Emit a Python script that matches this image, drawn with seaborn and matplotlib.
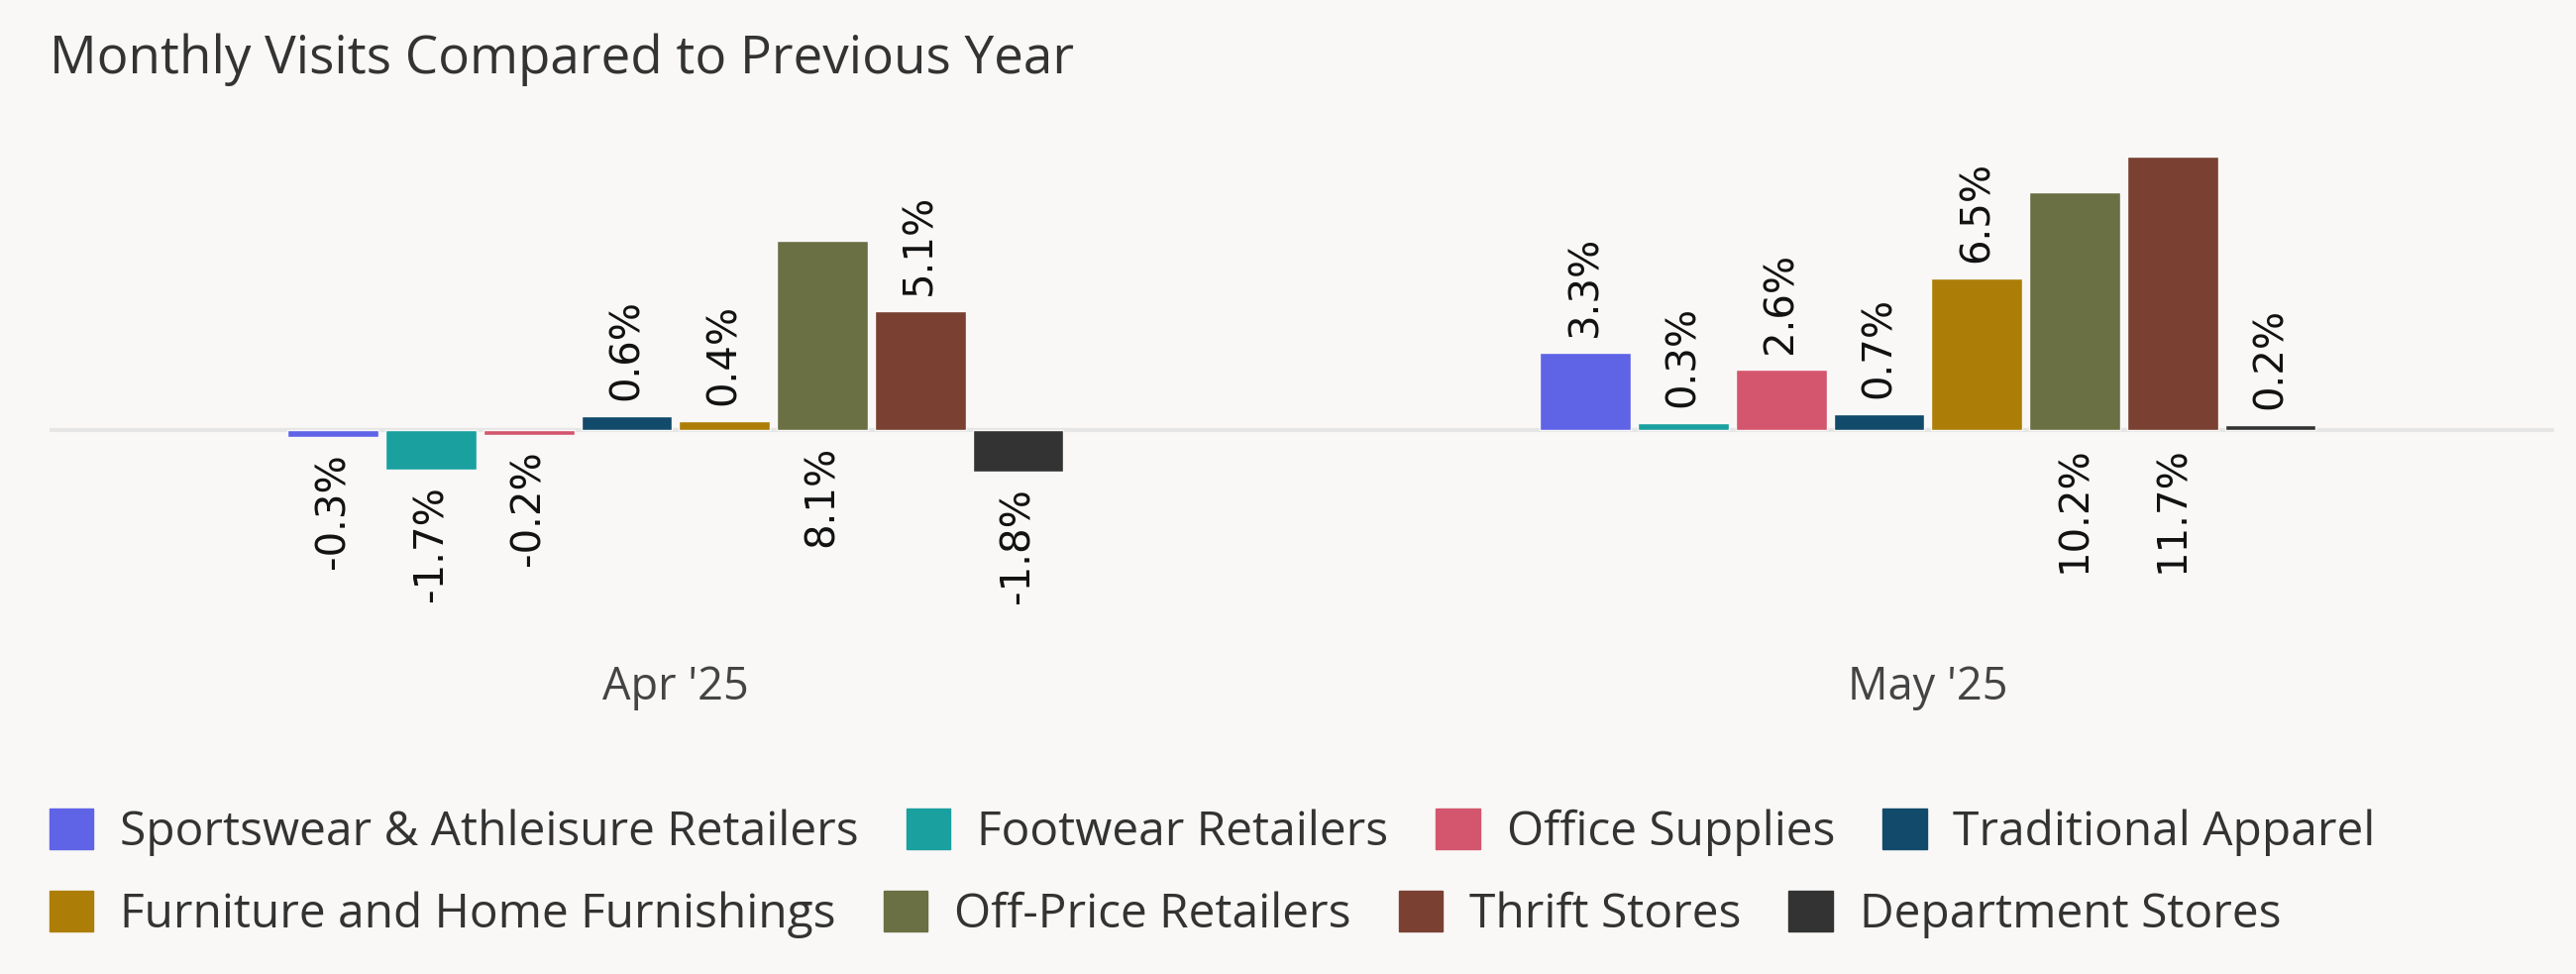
import pandas as pd
import seaborn as sns
import matplotlib.pyplot as plt
from matplotlib.patches import Patch

# Données du graphique
months = ["Apr '25", "May '25"]
categories = ['Sportswear & Athleisure Retailers', 'Footwear Retailers', 'Office Supplies',
              'Traditional Apparel', 'Furniture and Home Furnishings', 'Off-Price Retailers',
              'Thrift Stores', 'Department Stores']
apr_values = [-0.3, -1.7, -0.2, 0.6, 0.4, 8.1, 5.1, -1.8]
may_values = [3.3, 0.3, 2.6, 0.7, 6.5, 10.2, 11.7, 0.2]
colors = ['#5f63e6', '#1ba0a0', '#d4566e', '#124a6b', '#ad7e07', '#6a7043', '#7a4032', '#333333']

bg = '#f9f8f7'

rows = []
for month, values in zip(months, [apr_values, may_values]):
    for cat, v in zip(categories, values):
        rows.append({'Mois': month, 'Catégorie': cat, 'Variation': v})
df = pd.DataFrame(rows)

sns.set_theme(style='white')
plt.rcParams['font.family'] = ['Open Sans', 'DejaVu Sans']

fig = plt.figure(figsize=(26, 9.83), dpi=100, facecolor=bg)
ax = fig.add_axes([0.0192, 1 - 650 / 983, 0.9723, (650 - 148) / 983])
ax.set_facecolor(bg)

ax.axhline(0, color='#e6e6e6', lw=3, zorder=0)
sns.barplot(data=df, x='Mois', y='Variation', hue='Catégorie', hue_order=categories,
            palette=colors, saturation=1, width=0.625, gap=0.07, edgecolor=bg, linewidth=1,
            legend=False, ax=ax, zorder=2)

ax.set_xlim(-0.5, 1.5)
ax.set_ylim(-(650 - 434) / 23.55, (434 - 148) / 23.55)
ax.set_xlabel('')
ax.set_ylabel('')
ax.set_yticks([])
ax.tick_params(axis='x', length=0, pad=15, labelsize=32.5, labelcolor='#444444')
for s in ax.spines.values():
    s.set_visible(False)

# Étiquettes de valeurs
labels = []
for container in ax.containers:
    for bar in container:
        v = bar.get_height() if bar.get_y() >= 0 else bar.get_y()
        x = bar.get_x() + bar.get_width() / 2
        txt = f'{v:.1f}%'
        if v >= 0:
            t = ax.annotate(txt, (x, v), xytext=(0, 11.5), textcoords='offset points',
                            rotation=90, ha='center', va='bottom', fontsize=29,
                            family='DejaVu Sans', color='#111111')
        else:
            t = ax.annotate(txt, (x, v), xytext=(0, -11.5), textcoords='offset points',
                            rotation=90, ha='center', va='top', fontsize=29,
                            family='DejaVu Sans', color='#111111')
        labels.append((t, x, v))

# Si l'étiquette dépasse en haut, on la place sous la ligne zéro
fig.canvas.draw()
renderer = fig.canvas.get_renderer()
ax_top = ax.get_window_extent(renderer).y1
for t, x, v in labels:
    if v > 0 and t.get_window_extent(renderer).y1 > ax_top:
        t.xy = (x, 0)
        t.set_position((0, -11.5))
        t.set_va('top')

fig.text(0.0192, 1 - 74 / 983, 'Monthly Visits Compared to Previous Year',
         fontsize=38.2, color='#333333', va='baseline', ha='left')

# Légende sur deux lignes
handles = [Patch(facecolor=c, edgecolor=c) for c in colors]
leg_kw = dict(frameon=False, fontsize=34.5, handlelength=0.93, handleheight=0.93,
              handletextpad=0.56, columnspacing=1.0, borderpad=0, borderaxespad=0,
              loc='center left', bbox_transform=fig.transFigure, ncol=4, labelcolor='#333333')
leg1 = ax.legend(handles[:4], categories[:4], bbox_to_anchor=(0.0192, 1 - 840 / 983), **leg_kw)
ax.add_artist(leg1)
ax.legend(handles[4:], categories[4:], bbox_to_anchor=(0.0192, 1 - 923 / 983), **leg_kw)

fig.savefig('out.png', dpi=100, facecolor=bg)
